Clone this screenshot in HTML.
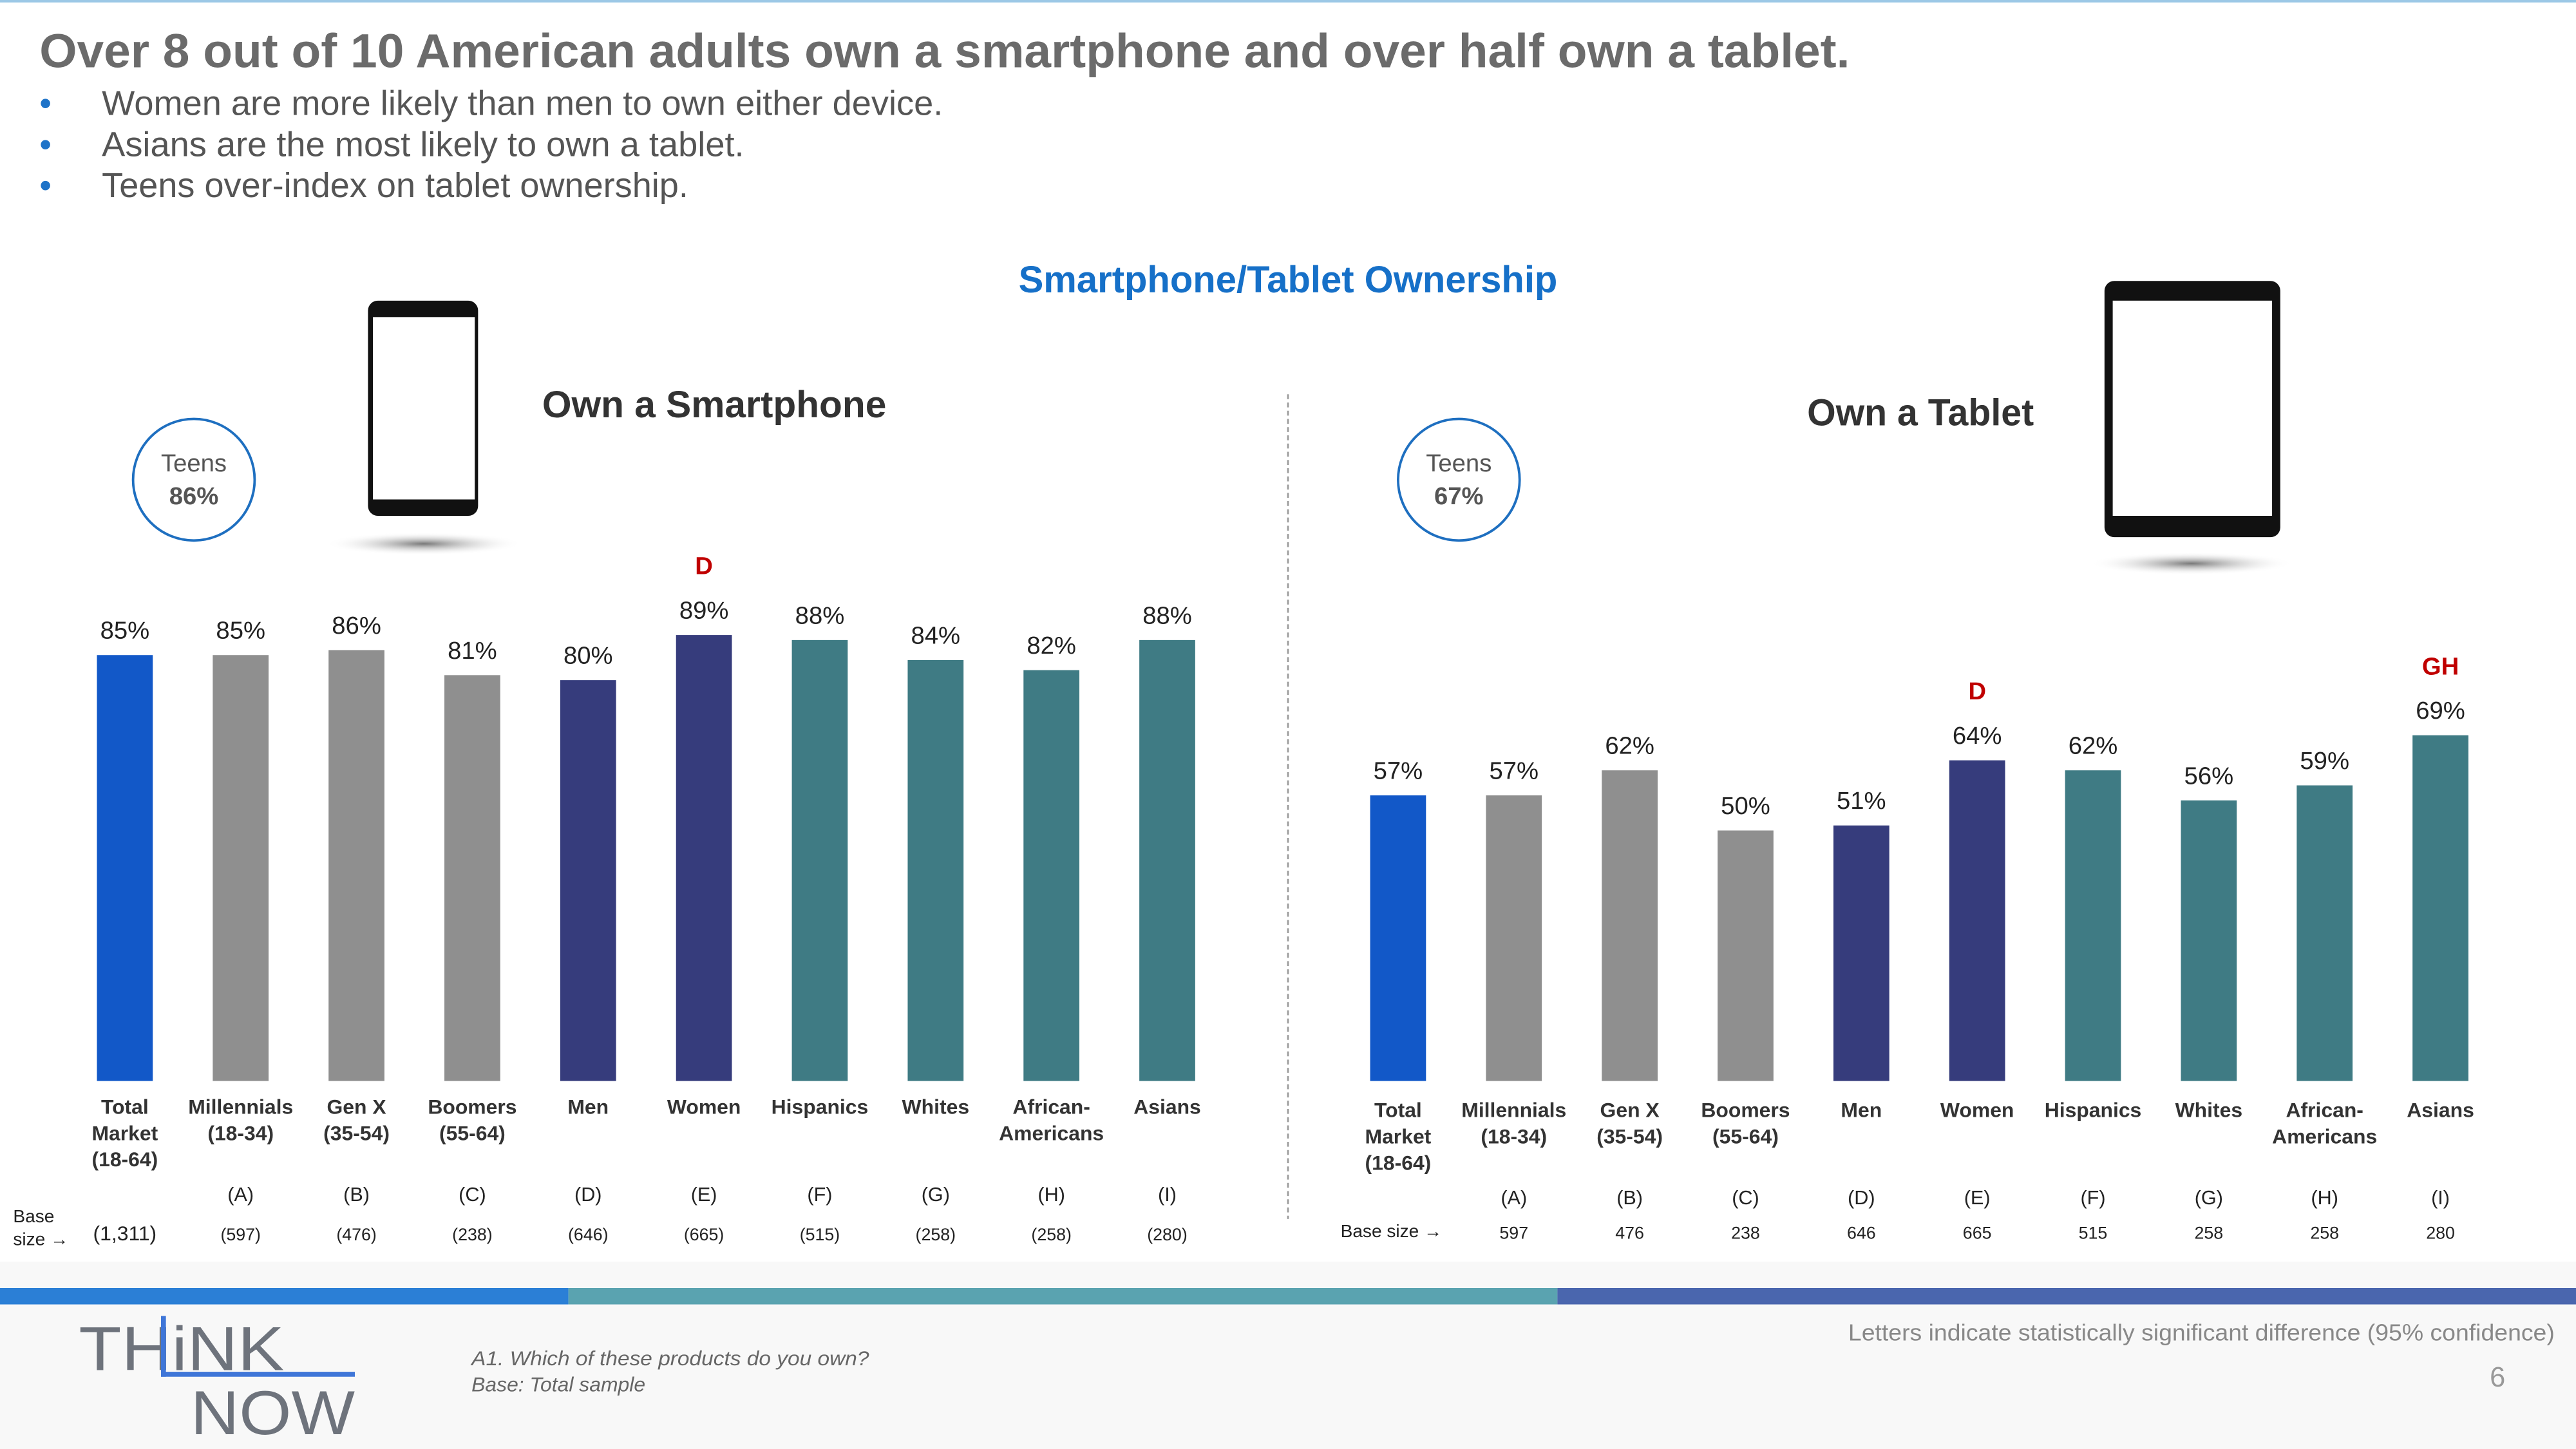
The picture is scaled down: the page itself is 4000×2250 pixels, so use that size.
<!DOCTYPE html>
<html><head><meta charset="utf-8">
<style>
html,body{margin:0;padding:0;background:#fff;}
svg{display:block;font-family:"Liberation Sans",Arial,sans-serif;}
</style></head>
<body>
<svg id="s" width="4000" height="2250" viewBox="0 0 1568 882" xmlns="http://www.w3.org/2000/svg">
<defs>
<radialGradient id="sh" cx="0.5" cy="0.5" r="0.5"><stop offset="0" stop-color="#777"/><stop offset="1" stop-color="#fff" stop-opacity="0"/></radialGradient>
</defs>
<rect x="0" y="0" width="1568" height="1.5" fill="#9cc8e6"/>
<text x="24" y="41" font-size="29" font-weight="bold" fill="#6b6b6b" textLength="1102" lengthAdjust="spacingAndGlyphs">Over 8 out of 10 American adults own a smartphone and over half own a tablet.</text>
<g font-size="21" fill="#555">
<text x="24" y="70" fill="#1e73c8">•</text><text x="62" y="70" textLength="512" lengthAdjust="spacingAndGlyphs">Women are more likely than men to own either device.</text>
<text x="24" y="95" fill="#1e73c8">•</text><text x="62" y="95" textLength="391" lengthAdjust="spacingAndGlyphs">Asians are the most likely to own a tablet.</text>
<text x="24" y="120" fill="#1e73c8">•</text><text x="62" y="120" textLength="357" lengthAdjust="spacingAndGlyphs">Teens over-index on tablet ownership.</text>
</g>
<text x="784" y="178" text-anchor="middle" font-size="23" font-weight="bold" fill="#1670c8" textLength="328" lengthAdjust="spacingAndGlyphs">Smartphone/Tablet Ownership</text>

<g>
<ellipse cx="258" cy="331" rx="60" ry="7" fill="url(#sh)"/>
<rect x="224" y="183" width="67" height="131" rx="6" fill="#111"/>
<rect x="227" y="193" width="62" height="111" fill="#fff"/>
</g>
<text x="330" y="254" font-size="23" font-weight="bold" fill="#333">Own a Smartphone</text>
<g>
<circle cx="118" cy="292" r="37" fill="#fff" stroke="#1e6fc0" stroke-width="1.5"/>
<text x="118" y="287" text-anchor="middle" font-size="15" fill="#555">Teens</text>
<text x="118" y="307" text-anchor="middle" font-size="15" font-weight="bold" fill="#555">86%</text>
</g>

<g>
<ellipse cx="1334" cy="343" rx="62" ry="7" fill="url(#sh)"/>
<rect x="1281" y="171" width="107" height="156" rx="6" fill="#111"/>
<rect x="1286" y="183" width="97" height="131" fill="#fff"/>
</g>
<text x="1100" y="259" font-size="23" font-weight="bold" fill="#333" textLength="138" lengthAdjust="spacingAndGlyphs">Own a Tablet</text>
<g>
<circle cx="888" cy="292" r="37" fill="#fff" stroke="#1e6fc0" stroke-width="1.5"/>
<text x="888" y="287" text-anchor="middle" font-size="15" fill="#555">Teens</text>
<text x="888" y="307" text-anchor="middle" font-size="15" font-weight="bold" fill="#555">67%</text>
</g>

<line x1="784" y1="240" x2="784" y2="742" stroke="#999" stroke-width="1" stroke-dasharray="3,2"/>

<g id="charts"></g>

<text x="8" y="744" font-size="11" fill="#222">Base</text>
<text x="8" y="758" font-size="11" fill="#222">size →</text>
<text x="816" y="753" font-size="11" fill="#222">Base size →</text>

<rect x="0" y="768" width="1568" height="114" fill="#f8f8f8"/>
<rect x="0" y="784" width="346" height="10" fill="#2b7fd6"/>
<rect x="346" y="784" width="602" height="10" fill="#5aa3b0"/>
<rect x="948" y="784" width="620" height="10" fill="#4a66ae"/>
<g>
<text x="48" y="834" font-size="38" fill="#6e737c" textLength="125" lengthAdjust="spacingAndGlyphs">THiNK</text>
<rect x="98" y="835" width="118" height="3" fill="#3f76d8"/>
<rect x="98" y="801" width="3" height="37" fill="#3f76d8"/>
<text x="116" y="873" font-size="38" fill="#6e737c" textLength="100" lengthAdjust="spacingAndGlyphs">NOW</text>
</g>
<text x="287" y="831" font-size="12.5" font-style="italic" fill="#666" textLength="242" lengthAdjust="spacingAndGlyphs">A1. Which of these products do you own?</text>
<text x="287" y="847" font-size="12.5" font-style="italic" fill="#666">Base: Total sample</text>
<text x="1555" y="816" text-anchor="end" font-size="14" fill="#888" textLength="430" lengthAdjust="spacingAndGlyphs">Letters indicate statistically significant difference (95% confidence)</text>
<text x="1525" y="844" text-anchor="end" font-size="17" fill="#999">6</text>
</svg>
<script>
const smartCats = ["Total|Market|(18-64)","Millennials|(18-34)","Gen X|(35-54)","Boomers|(55-64)","Men","Women","Hispanics","Whites","African-|Americans","Asians"];
const tabletCats = ["Total|Market|(18-64)","Millennials|(18-34)","Gen X|(35-54)","Boomers|(55-64)","Men","Women","Hispanics","Whites","African-|Americans","Asians"];
const letters = ["","(A)","(B)","(C)","(D)","(E)","(F)","(G)","(H)","(I)"];
const smartValues = [85,85,86,81,80,89,88,84,82,88];
const tabletValues = [57,57,62,50,51,64,62,56,59,69];
const smartSig = ["","","","","","D","","","",""];
const tabletSig = ["","","","","","D","","","","GH"];
const smartBase = ["(1,311)","(597)","(476)","(238)","(646)","(665)","(515)","(258)","(258)","(280)"];
const tabletBase = ["597","476","238","646","665","515","258","258","280"];
const colorsByGroup = ["#1258c8","#8f8f8f","#8f8f8f","#8f8f8f","#363c7c","#363c7c","#3f7b84","#3f7b84","#3f7b84","#3f7b84"];

const NS="http://www.w3.org/2000/svg";
const root=document.getElementById('charts');
const baseline=658, pxPer=3.05;
function yScale(v){return baseline - v*pxPer;}
function xScale(i,x0){return x0 + i*70.5;}
function mk(tag,attrs,parent){const e=document.createElementNS(NS,tag);for(const k in attrs)e.setAttribute(k,attrs[k]);(parent||root).appendChild(e);return e;}

function drawChart(prefix,x0,cats,vals,sig,bases,baseOffset,catY,letterY,baseY,baseFont){
  const g=mk('g',{});
  
  
  vals.forEach((v,i)=>{
    const cx=xScale(i,x0), top=yScale(v);
    const r=mk('rect',{x:cx-17,y:top,width:34,height:baseline-top,fill:colorsByGroup[i]},g);
    
    
    const t=mk('text',{x:cx,y:top-10,'text-anchor':'middle','font-size':15,fill:'#222'},g);
    t.textContent=v+'%';
    
    
    if(sig[i]){
      const s=mk('text',{x:cx,y:top-37,'text-anchor':'middle','font-size':15,'font-weight':'bold',fill:'#c00000'},g);
      s.textContent=sig[i];
      
      
    }
    cats[i].split('|').forEach((ln,j)=>{
      const c=mk('text',{x:cx,y:catY+j*16,'text-anchor':'middle','font-size':12.5,'font-weight':'bold',fill:'#333'},g);
      c.textContent=ln;
      
      
    });
    if(letters[i]){
      const l=mk('text',{x:cx,y:letterY,'text-anchor':'middle','font-size':12,fill:'#222'},g);
      l.textContent=letters[i];
      
      
    }
    const bi=i-baseOffset;
    if(bi>=0 && bases[bi]){
      const b=mk('text',{x:cx,y:baseY,'text-anchor':'middle','font-size':(i===0?baseFont+2:baseFont),fill:'#222'},g);
      b.textContent=bases[bi];
      
      
    }
  });
}
drawChart('smartphone',76,smartCats,smartValues,smartSig,smartBase,0,678,731,755,10.5);
drawChart('tablet',851,tabletCats,tabletValues,tabletSig,tabletBase,1,680,733,754,10.5);
</script>
</body></html>
